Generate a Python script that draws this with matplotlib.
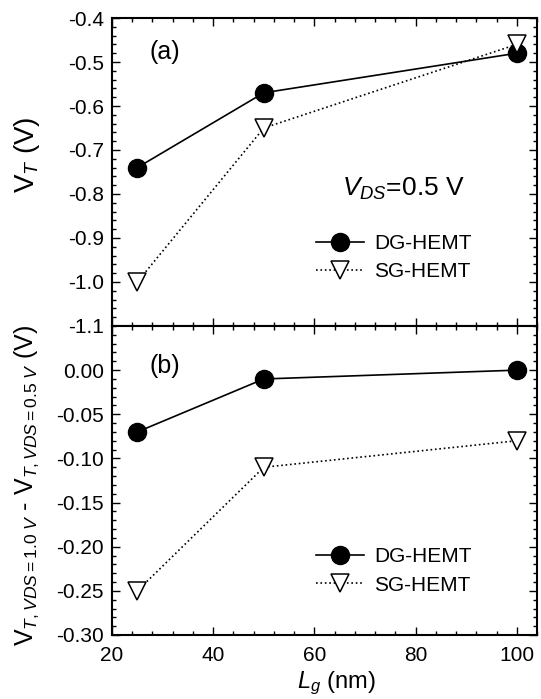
import matplotlib
matplotlib.use("Agg")
import matplotlib.pyplot as plt
from matplotlib.ticker import AutoMinorLocator, FormatStrFormatter

plt.rcParams['font.family'] = ['Liberation Sans', 'DejaVu Sans']
plt.rcParams['mathtext.fontset'] = 'custom'
plt.rcParams['mathtext.rm'] = 'Liberation Sans'
plt.rcParams['mathtext.it'] = 'Liberation Sans:italic'
plt.rcParams['mathtext.bf'] = 'Liberation Sans:bold'

# ---- data ----
lg = [25, 50, 100]
vt_dg = [-0.74, -0.57, -0.48]
vt_sg = [-1.00, -0.65, -0.46]
dvt_dg = [-0.07, -0.01, 0.00]
dvt_sg = [-0.25, -0.11, -0.08]
series_labels = ["DG-HEMT", "SG-HEMT"]
top_yticks = [-1.1, -1.0, -0.9, -0.8, -0.7, -0.6, -0.5, -0.4]
bot_yticks = [-0.30, -0.25, -0.20, -0.15, -0.10, -0.05, 0.00]
xticks = [20, 40, 60, 80, 100]

W, H = 541, 699
fig = plt.figure(figsize=(W / 100, H / 100), dpi=100)

left, right = 112 / W, 537 / W
top_t, mid, bot_b = 18 / H, 326 / H, 635 / H
ax1 = fig.add_axes([left, 1 - mid, right - left, mid - top_t])
ax2 = fig.add_axes([left, 1 - bot_b, right - left, bot_b - mid])

line_kw_dg = dict(color='black', lw=1.2, ls='-', marker='o', ms=13,
                  mfc='black', mec='black')
line_kw_sg = dict(color='black', lw=1.2, ls=':', marker='v', ms=12.5,
                  mfc='white', mec='black', mew=1.1)

ax1.plot(lg, vt_dg, label=series_labels[0], **line_kw_dg)
ax1.plot(lg, vt_sg, label=series_labels[1], **line_kw_sg)
ax2.plot(lg, dvt_dg, label=series_labels[0], **line_kw_dg)
ax2.plot(lg, dvt_sg, label=series_labels[1], **line_kw_sg)

for ax in (ax1, ax2):
    ax.set_xlim(20, 104)
    ax.set_xticks(xticks)
    ax.xaxis.set_minor_locator(AutoMinorLocator(5))
    ax.yaxis.set_minor_locator(AutoMinorLocator(5))
    ax.tick_params(which='both', direction='in', top=True, right=True,
                   width=1.0, labelsize=15)
    ax.tick_params(which='major', length=5.5, pad=6)
    ax.tick_params(which='minor', length=3)
    for s in ax.spines.values():
        s.set_linewidth(1.5)

ax1.set_ylim(-1.1, -0.4)
ax1.set_yticks(top_yticks)
ax1.yaxis.set_major_formatter(FormatStrFormatter('%.1f'))
ax1.tick_params(axis='x', labelbottom=False)

ax2.set_ylim(-0.30, 0.05)
ax2.set_yticks(bot_yticks)
ax2.yaxis.set_major_formatter(FormatStrFormatter('%.2f'))
ax2.tick_params(axis='x', pad=8)

ax1.text(0.125, 0.89, "(a)", transform=ax1.transAxes, fontsize=18,
         ha='center', va='center')
ax2.text(0.125, 0.872, "(b)", transform=ax2.transAxes, fontsize=18,
         ha='center', va='center')
ax1.text(0.685, 0.445, r"$V_{DS}$=0.5 V", transform=ax1.transAxes,
         fontsize=19, ha='center', va='center')

leg_kw = dict(frameon=False, fontsize=15, handlelength=2.3, handletextpad=0.5,
              borderpad=0, borderaxespad=0, labelspacing=0.45, loc='center left')
ax1.legend(bbox_to_anchor=(0.48, 0.222), **leg_kw)
ax2.legend(bbox_to_anchor=(0.48, 0.207), **leg_kw)

fig.text(27 / W, 1 - 155 / H, r"$\mathrm{V}_{T}$ (V)", rotation=90,
         fontsize=20, ha='center', va='center')
fig.text(27 / W, 1 - 486 / H,
         r"$\mathrm{V}_{T,VDS=1.0\ V}$ - $\mathrm{V}_{T,VDS=0.5\ V}$ (V)",
         rotation=90, fontsize=18, ha='center', va='center')
fig.text(336 / W, 1 - 683 / H, r"$L_g$ (nm)", fontsize=17,
         ha='center', va='center')

fig.savefig("out.png", dpi=100)
